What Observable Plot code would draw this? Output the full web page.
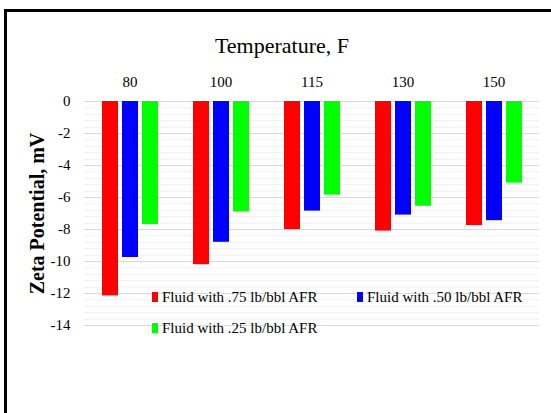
<!DOCTYPE html>
<html><head><meta charset="utf-8">
<script src="https://cdn.jsdelivr.net/npm/d3@7"></script>
<script src="https://cdn.jsdelivr.net/npm/@observablehq/plot@0.6"></script>
<style>
html,body{margin:0;padding:0;background:#fff;}
#wrap{position:relative;width:551px;height:413px;overflow:hidden;font-family:"Liberation Serif","Times New Roman",serif;color:#000;}
#wrap svg{position:absolute;left:0;top:0;}
#frame{position:absolute;left:4px;top:9px;right:-10px;bottom:-10px;border-left:3px solid #000;border-top:3px solid #000;pointer-events:none;}
#title{position:absolute;left:0;width:564px;top:33px;text-align:center;font-size:22px;line-height:25px;}
.legend{position:absolute;font-size:15px;line-height:18px;display:flex;align-items:center;white-space:nowrap;}
.legend i{display:inline-block;width:6px;height:10px;margin-right:4px;}
</style></head>
<body>
<div id="wrap"></div>
<script>
// ---- data ----
const temps = ["80", "100", "115", "130", "150"];
const seriesNames = ["Fluid with .75 lb/bbl AFR", "Fluid with .50 lb/bbl AFR", "Fluid with .25 lb/bbl AFR"];
const seriesColors = ["#ff0000", "#0000ff", "#00ff00"];
const afr75 = [-12.15, -10.2, -8.0, -8.1, -7.75];
const afr50 = [-9.75, -8.8, -6.85, -7.1, -7.45];
const afr25 = [-7.7, -6.9, -5.85, -6.55, -5.1];
const yTicks = [0, -2, -4, -6, -8, -10, -12, -14];
const minorTicks = d3.range(-14, 0.001, 0.4);
const titleText = "Temperature, F";
const yLabel = "Zeta Potential, mV";

const seriesValues = [afr75, afr50, afr25];
const data = temps.flatMap((t, i) => seriesNames.map((s, j) => ({temp: t, series: s, value: seriesValues[j][i]})));

const font = '"Liberation Serif","Times New Roman",serif';
const chart = Plot.plot({
  width: 551, height: 413,
  marginLeft: 84, marginRight: 12, marginTop: 101, marginBottom: 88,
  style: {fontFamily: font, background: "transparent", color: "#000"},
  fx: {domain: temps, padding: 0, label: null},
  x: {domain: seriesNames, paddingInner: 0.2, paddingOuter: 0.875, axis: null},
  y: {domain: [-14, 0], label: null},
  color: {domain: seriesNames, range: seriesColors},
  marks: [
    Plot.gridY(minorTicks, {stroke: "#efefef", strokeOpacity: 1}),
    Plot.gridY(yTicks, {stroke: "#d9d9d9", strokeOpacity: 1}),
    Plot.barY(data, {fx: "temp", x: "series", y: "value", fill: "series"}),
    Plot.axisFx({anchor: "top", tickSize: 0, tickPadding: 15, fontSize: 15, label: null}),
    Plot.axisY(yTicks, {tickSize: 0, tickPadding: 14, fontSize: 15, label: null, tickFormat: d => String(d)}),
    Plot.axisY({ticks: [], tickSize: 0, label: yLabel, labelAnchor: "center", labelOffset: 55, labelArrow: "none", fontSize: 20, fontWeight: "bold"})
  ]
});

const wrap = document.getElementById("wrap");
wrap.appendChild(chart);
const frame = document.createElement("div"); frame.id = "frame"; wrap.appendChild(frame);
const title = document.createElement("div"); title.id = "title"; title.textContent = titleText; wrap.appendChild(title);

const legendPos = [[152, 288], [357, 288], [152, 319]];
seriesNames.forEach((s, j) => {
  const d = document.createElement("div");
  d.className = "legend";
  d.style.left = legendPos[j][0] + "px";
  d.style.top = legendPos[j][1] + "px";
  const sw = document.createElement("i");
  sw.style.background = seriesColors[j];
  d.appendChild(sw);
  d.appendChild(document.createTextNode(s));
  wrap.appendChild(d);
});
</script>
</body></html>
